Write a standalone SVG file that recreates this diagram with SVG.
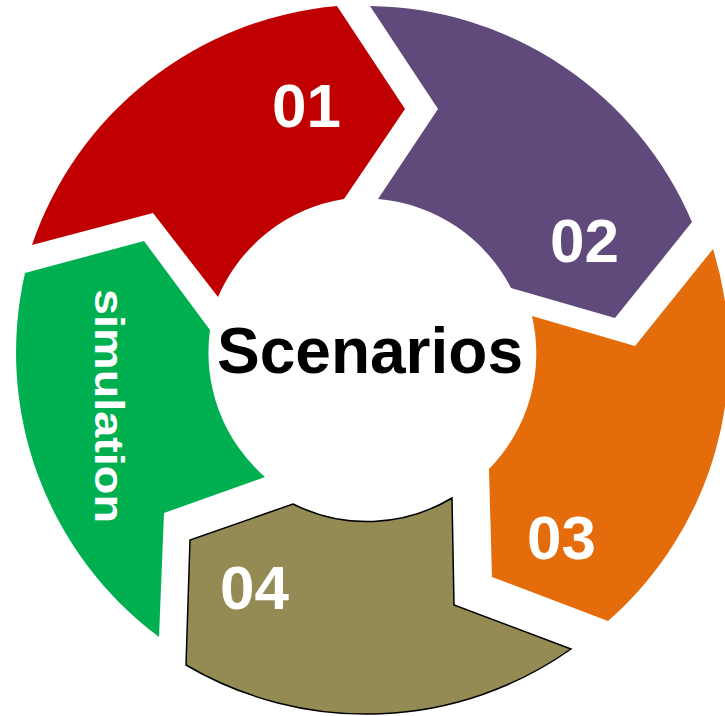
<svg xmlns="http://www.w3.org/2000/svg" width="725" height="716" viewBox="0 0 725 716">
  <style>
    .num { font-family: "Liberation Sans", Arial, sans-serif; font-weight: bold; fill: #FFFFFF; font-size: 62px; }
    .center { font-family: "Liberation Sans", Arial, sans-serif; font-weight: bold; fill: #000000; font-size: 64px; }
  </style>
  <rect x="0" y="0" width="725" height="716" fill="#FFFFFF"/>
  <g id="step-01">
    <path d="M 32,245 A 355 355 0 0 1 337,6 L 405,109 L 344,199 A 165 165 0 0 0 218,297 L 153,213 Z" fill="#C00000"/>
    <text class="num" x="272" y="127">01</text>
  </g>
  <g id="step-02">
    <path d="M 370,6 A 355 355 0 0 1 692,222 L 615,318 L 511,288 A 165 165 0 0 0 378,199 L 438,109 Z" fill="#604A7B"/>
    <text class="num" x="550" y="262">02</text>
  </g>
  <g id="step-03">
    <path d="M 532,316 L 635,346 L 713,249 A 355 355 0 0 1 608,621 L 492,577 L 489,469 A 165 165 0 0 0 532,316 Z" fill="#E46C0A"/>
    <text class="num" x="527" y="559">03</text>
  </g>
  <g id="step-04">
    <path d="M 293,504 A 165 165 0 0 0 452,498 L 454,605 L 571,649 A 355 355 0 0 1 186,665 L 190,540 Z" fill="#948A54" stroke="#000000" stroke-width="1.5" stroke-linejoin="miter"/>
    <text class="num" x="220" y="609">04</text>
  </g>
  <g id="step-simulation">
    <path d="M 25,273 L 144,241 L 210,330 A 165 165 0 0 0 265,477 L 164,513 L 159,637 A 355 355 0 0 1 25,273 Z" fill="#00B050"/>
    <text class="num" transform="translate(95,289) rotate(90)" x="0" y="0" style="font-size:41px" textLength="234" lengthAdjust="spacingAndGlyphs">simulation</text>
  </g>
  <g id="center">
    <text class="center" x="370" y="373" text-anchor="middle">Scenarios</text>
  </g>
  <g id="connectors"></g>
</svg>
